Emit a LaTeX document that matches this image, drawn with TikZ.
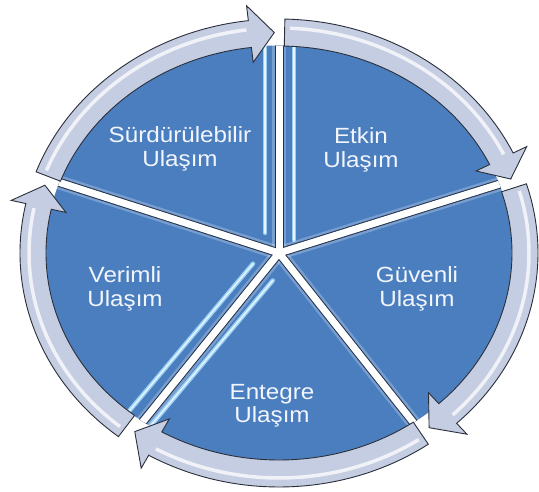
\documentclass[tikz,border=0pt]{standalone}
\usepackage{fontspec}
\setmainfont{Liberation Sans}
\usepackage{graphicx}
\usetikzlibrary{calc}
\definecolor{sectorblue}{HTML}{4A7EBF}
\definecolor{ringfill}{HTML}{C5CDE2}
\definecolor{edgedark}{HTML}{2A2F3A}
\definecolor{gapdark}{HTML}{22314D}
\definecolor{glossblue}{HTML}{9ACFF4}
\definecolor{glosscore}{HTML}{E2F4FF}
\definecolor{labelwhite}{HTML}{F2F6FC}
\newcommand\wx[1]{\scalebox{1.1}[1]{#1}}
\tikzset{
  ringpart/.style={fill=ringfill, draw=edgedark, line width=0.9pt, line join=miter},
  ringshine/.style={draw=white, opacity=0.75, line width=3.5pt},
  gapglow/.style={draw=white, opacity=0.25, line width=14pt},
  gapedge/.style={draw=gapdark, line width=9pt},
  gapfill/.style={draw=white, line width=7pt},
  glosswide/.style={draw=glossblue, line width=4.5pt, line cap=round},
  glossthin/.style={draw=glosscore, line width=1.5pt, line cap=round},
  lbl/.style={text=labelwhite, align=center, inner sep=0pt,
    font=\fontsize{22}{23.5}\selectfont}
}
\newcommand\ringarrow[2]{%
  \pgfmathsetmacro\aS{#1-1.3}%
  \pgfmathsetmacro\aT{#2+1.1}%
  \pgfmathsetmacro\aB{#2+6.8}%
  \pgfmathsetmacro\sS{#1-2.5}%
  \pgfmathsetmacro\sB{#2+7.5}%
  \filldraw[ringpart] ({279+259*cos(\aS)},{238+234*sin(\aS)})
    arc[start angle=\aS, end angle=\aB, x radius=259pt, y radius=234pt]
    -- ({279+274*cos(\aB)},{238+249*sin(\aB)})
    -- ({279+246*cos(\aT)},{238+220.5*sin(\aT)})
    -- ({279+218*cos(\aB)},{238+192*sin(\aB)})
    -- ({279+233*cos(\aB)},{238+207*sin(\aB)})
    arc[start angle=\aB, end angle=\aS, x radius=233pt, y radius=207pt]
    -- cycle;
  \draw[ringshine] ({279+250*cos(\sS)},{238+225*sin(\sS)})
    arc[start angle=\sS, end angle=\sB, x radius=250pt, y radius=225pt];
}
\begin{document}
\begin{tikzpicture}[x=1pt,y=1pt]
\useasboundingbox (0,0) rectangle (539,491);
\fill[white] (0,0) rectangle (539,491);
\coordinate (C) at (279,238);
% blue disc with gaps
\begin{scope}
  \clip (C) ellipse [x radius=233.5pt, y radius=207.5pt];
  \fill[sectorblue] (C) ellipse [x radius=234pt, y radius=208pt];
  % gloss lines
  \draw[glosswide] (265,258) -- (265,480);
  \draw[glossthin] (265,258) -- (265,480);
  \draw[glosswide] (294,251) -- (294,480);
  \draw[glossthin] (294,251) -- (294,480);
  \draw[glosswide] (253,227.3) -- (85.8,28.4);
  \draw[glossthin] (253,227.3) -- (85.8,28.4);
  \draw[glosswide] (272.8,210.5) -- (105.6,11.6);
  \draw[glossthin] (272.8,210.5) -- (105.6,11.6);
  % gap lines
  \foreach \g in {90,18.5,-53.5,-127,161}{
    \draw[gapglow] (C) -- ({279+300*cos(\g)},{238+280*sin(\g)});
  }
  \foreach \g in {90,18.5,-53.5,-127,161}{
    \draw[gapedge] (C) -- ({279+300*cos(\g)},{238+280*sin(\g)});
  }
  \foreach \g in {90,18.5,-53.5,-127,161}{
    \draw[gapfill] (C) -- ({279+300*cos(\g)},{238+280*sin(\g)});
  }
\end{scope}
% ring arrows
\ringarrow{161}{90}
\ringarrow{90}{18.5}
\ringarrow{18.5}{-53.5}
\ringarrow{-53.5}{-127}
\ringarrow{-127}{-199}
% labels
\node[lbl] (surdurulebilir) at (180,342) {\wx{Sürdürülebilir}\\\wx{Ulaşım}};
\node[lbl] (etkin) at (361,341) {\wx{Etkin}\\\wx{Ulaşım}};
\node[lbl] (guvenli) at (417,202) {\wx{Güvenli}\\\wx{Ulaşım}};
\node[lbl] (verimli) at (125,202) {\wx{Verimli}\\\wx{Ulaşım}};
\node[lbl] (entegre) at (272,85) {\wx{Entegre}\\\wx{Ulaşım}};
\end{tikzpicture}
\end{document}
